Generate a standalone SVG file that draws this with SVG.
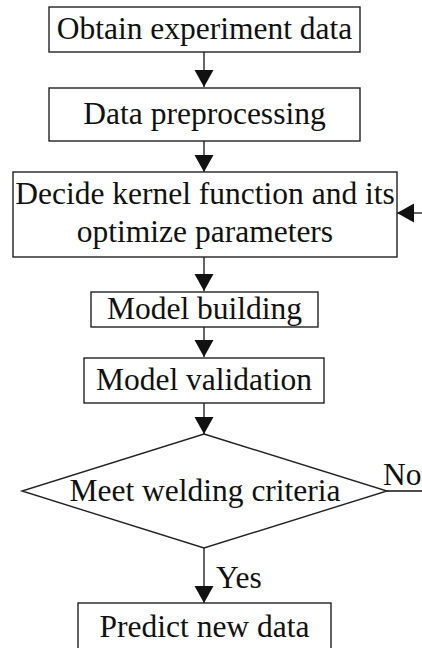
<svg xmlns="http://www.w3.org/2000/svg" width="422" height="648" viewBox="0 0 422 648">
<defs>
<style>
.box{fill:#fff;stroke:#222;stroke-width:1.4}
.t{font-family:"Liberation Serif","Times New Roman",serif;font-size:31.5px;fill:#111;text-anchor:middle}
.lbl{font-family:"Liberation Serif","Times New Roman",serif;font-size:31.5px;fill:#111}
.c{stroke:#111;stroke-width:1.3;fill:none}
</style>
<marker id="ah" markerWidth="20" markerHeight="20" viewBox="0 0 18 20" refX="17" refY="10" orient="auto" markerUnits="userSpaceOnUse">
<path d="M0,0.5 L17,10 L0,19.5 Z" fill="#111"/>
</marker>
</defs>
<rect width="422" height="648" fill="#fff"/>
<g id="connectors">
<line class="c" x1="204" y1="52" x2="204" y2="87" marker-end="url(#ah)"/>
<line class="c" x1="204" y1="141" x2="204" y2="172" marker-end="url(#ah)"/>
<line class="c" x1="204" y1="257" x2="204" y2="291" marker-end="url(#ah)"/>
<line class="c" x1="204" y1="327" x2="204" y2="357" marker-end="url(#ah)"/>
<line class="c" x1="204" y1="403" x2="204" y2="434" marker-end="url(#ah)"/>
<line class="c" x1="204" y1="548" x2="204" y2="603" marker-end="url(#ah)"/>
<line class="c" x1="387" y1="491" x2="422" y2="491"/>
<line class="c" x1="422" y1="213" x2="397" y2="213" marker-end="url(#ah)"/>
<text class="lbl" x="383" y="485">No</text>
<text class="lbl" x="216" y="588">Yes</text>
</g>
<g id="n1">
<rect class="box" x="49" y="7" width="311" height="45"/>
<text class="t" x="204.5" y="39">Obtain experiment data</text>
</g>
<g id="n2">
<rect class="box" x="49" y="88" width="311" height="53"/>
<text class="t" x="204.5" y="124">Data preprocessing</text>
</g>
<g id="n3">
<rect class="box" x="13" y="172" width="384" height="85"/>
<text class="t" x="205" y="204">Decide kernel function and its</text>
<text class="t" x="205" y="242">optimize parameters</text>
</g>
<g id="n4">
<rect class="box" x="91" y="292" width="227" height="35"/>
<text class="t" x="204.5" y="319">Model building</text>
</g>
<g id="n5">
<rect class="box" x="84" y="358" width="240" height="45"/>
<text class="t" x="204" y="390">Model validation</text>
</g>
<g id="n6">
<polygon class="box" points="204,434 387,491 204,548 22,491"/>
<text class="t" x="205" y="501">Meet welding criteria</text>
</g>
<g id="n7">
<rect class="box" x="78" y="603" width="253" height="60"/>
<text class="t" x="204.5" y="637">Predict new data</text>
</g>
</svg>
